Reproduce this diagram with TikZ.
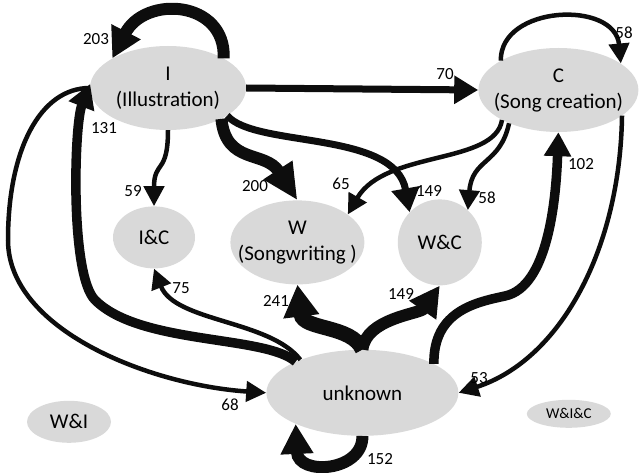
\documentclass[tikz,border=0pt]{standalone}
\usepackage{fontspec}
\setmainfont{Carlito}
\usepackage{tikz}
\usetikzlibrary{shapes.geometric,arrows.meta,positioning}
\definecolor{bubble}{HTML}{D9D9D9}
\definecolor{ink}{HTML}{0D0D0D}

\begin{document}
\begin{tikzpicture}[
    x=1pt,y=-1pt,
    state/.style={ellipse,fill=bubble,inner xsep=-20pt,inner ysep=-12pt,align=center,font=\fontsize{21}{26}\selectfont},
    count/.style={inner sep=0pt,font=\fontsize{17}{20}\selectfont},
    arrowthin/.style={draw=ink,line width=4.5pt,-{Triangle[length=20pt,width=20pt]}},
    arrowmid/.style={draw=ink,line width=7pt,-{Triangle[length=24pt,width=27pt]}},
    arrowthick/.style={draw=ink,line width=9.5pt,-{Triangle[length=24pt,width=26pt]}},
    arrowheavy/.style={draw=ink,line width=12pt,-{Triangle[length=30pt,width=31pt]}},
    arrowhuge/.style={draw=ink,line width=15pt,-{Triangle[length=32pt,width=34pt]}}
  ]
    \useasboundingbox (0,0) rectangle (640,473);

    \node[state,minimum width=156pt,minimum height=84pt] (i) at (168,88) {I\\(Illustration)};
    \node[state,minimum width=160pt,minimum height=84pt,right=232pt of i,yshift=-2pt] (c) {C\\(Song creation)};

    \node[state,minimum width=82pt,minimum height=62pt,below=76pt of i,xshift=-14pt] (ic) {I\&C};
    \node[state,minimum width=134pt,minimum height=84pt,right=35pt of ic,yshift=-5pt] (w) {W\\(Songwriting )};
    \node[state,minimum width=84pt,minimum height=86pt,right=33pt of w] (wc) {W\&C};

    \node[state,minimum width=192pt,minimum height=86pt,below=65pt of w,xshift=65pt] (unk) {unknown};
    \node[state,minimum width=84pt,minimum height=42pt,left=155pt of unk,yshift=-29pt] (wi) {W\&I};
    \node[state,minimum width=84pt,minimum height=28pt,right=68pt of unk,yshift=-21pt,font=\fontsize{15}{18}\selectfont] (wic) {W\&I\&C};

    % from I
    \draw[arrowheavy] (i.28) .. controls (226,0) and (145,-5) .. (i.152);
    \draw[arrowmid] (i.east) -- (c.west);
    \draw[arrowthin] (i.south) .. controls (168,175) and (154,160) .. (ic.north);
    \draw[arrowheavy,-{Triangle[length=36pt,width=32pt]}] (i.-30) .. controls (226,165) and (265,150) .. (w.north);
    \draw[arrowmid] (i.-25) .. controls (255,148) and (395,130) .. (wc.135);
    \draw[arrowthin] (i.west) .. controls (40,88) and (8,150) .. (8,240) .. controls (8,330) and (150,385) .. (unk.west);

    % from C
    \draw[arrowthin] (c.153) .. controls (500,5) and (615,0) .. (c.23);
    \draw[arrowthin] (c.-152) .. controls (495,165) and (385,150) .. (w.29);
    \draw[arrowthin] (c.-146) .. controls (500,165) and (472,158) .. (wc.49);
    \draw[arrowthin] (c.-22) .. controls (620,250) and (560,360) .. (unk.east);

    % from unknown
    \draw[arrowthick] (unk.155) .. controls (265,335) and (140,345) .. (95,300) .. controls (70,275) and (74,125) .. (i.177);
    \draw[arrowthin] (unk.152) .. controls (270,320) and (175,322) .. (ic.south);
    \draw[arrowhuge] (unk.north) .. controls (352,325) and (303,330) .. (w.south);
    \draw[arrowheavy] (unk.north) .. controls (366,318) and (420,314) .. (wc.south);
    \draw[arrowthick] (unk.22) .. controls (433,310) and (478,302) .. (505,296) .. controls (548,287) and (556,200) .. (c.south);
    \draw[arrowheavy] (unk.south) .. controls (363,472) and (298,476) .. (unk.205);

    % counts
    \node[count] (n203) at (96,39) {203};
    \node[count] (n70) at (445,74) {70};
    \node[count] (n58c) at (624,33) {58};
    \node[count] (n59) at (133,191) {59};
    \node[count] (n200) at (255,186) {200};
    \node[count] (n131) at (104,128) {131};
    \node[count] (n65) at (341,184) {65};
    \node[count] (n149a) at (429,191) {149};
    \node[count] (n58wc) at (487,198) {58};
    \node[count] (n102) at (581,164) {102};
    \node[count] (n75) at (181,288) {75};
    \node[count] (n241) at (276,301) {241};
    \node[count] (n68) at (230,405) {68};
    \node[count] (n149b) at (401,294) {149};
    \node[count] (n53) at (479,378) {53};
    \node[count] (n152) at (380,459) {152};
  \end{tikzpicture}
\end{document}
